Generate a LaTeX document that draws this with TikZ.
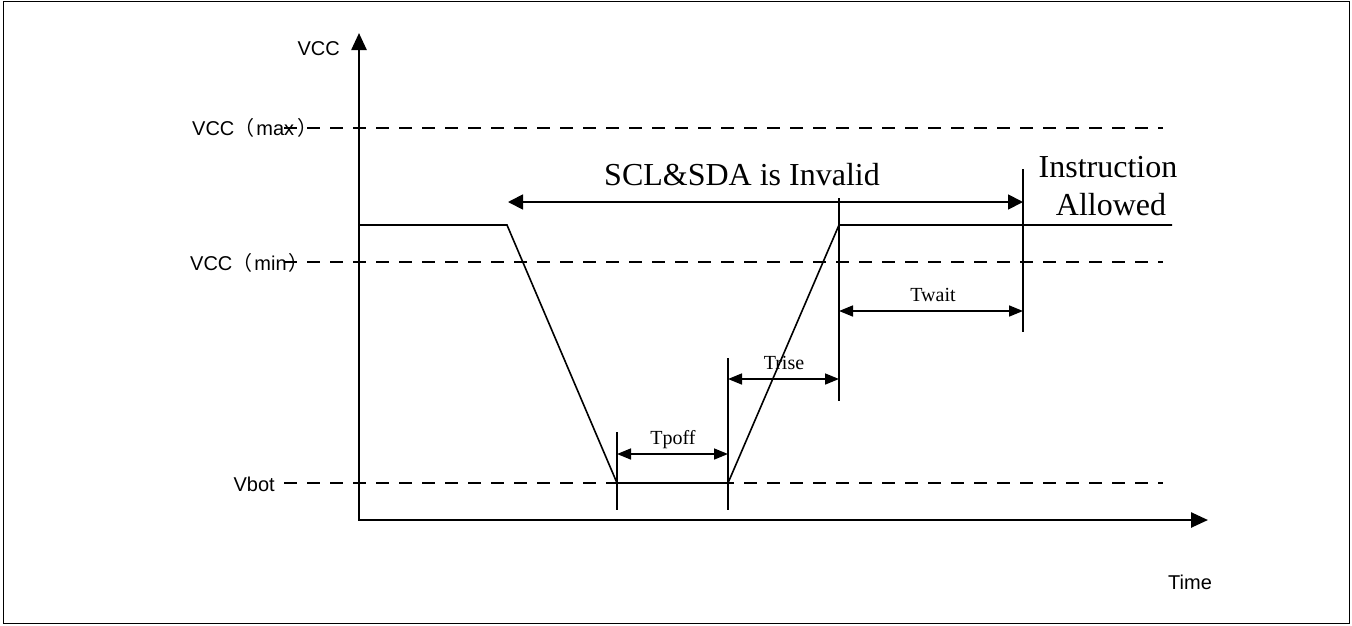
\documentclass[tikz,border=0pt]{standalone}
\usepackage{fontspec}
\setmainfont{Liberation Serif}
\setsansfont{Liberation Sans}
\newfontfamily\cjkfont{Noto Sans CJK SC}
\usetikzlibrary{arrows.meta}

\begin{document}
\begin{tikzpicture}[x=1pt, y=-1pt,
    axis/.style={line width=2.5pt, {Triangle[length=17pt,width=15pt]}-{Triangle[length=17pt,width=15pt]}},
    level/.style={line width=1.6pt, dash pattern=on 13pt off 10pt},
    signal/.style={line width=1.6pt, line join=miter},
    marker/.style={line width=1.6pt},
    span/.style={line width=1.6pt, {Triangle[length=14pt,width=11pt]}-{Triangle[length=14pt,width=11pt]}},
    bigspan/.style={line width=1.8pt, {Triangle[length=15pt,width=15pt]}-{Triangle[length=15pt,width=15pt]}},
    sanslabel/.style={font=\sffamily\fontsize{20}{24}\selectfont, inner sep=0pt},
    timelabel/.style={font=\fontsize{20}{24}\selectfont, inner sep=0pt},
    biglabel/.style={font=\fontsize{32}{38}\selectfont, inner sep=0pt}]
    % Define the levels (pixels, measured downwards)
    \def\yhigh{225}
    \def\ybot{483}

    % Frame round the whole picture
    \useasboundingbox (0,0) rectangle (1352,625);
    \draw[line width=1.5pt] (3.5,1.5) rectangle (1349.5,623.5);

    % Axes
    \coordinate (O) at (359,520);
    \coordinate (Ytip) at (359,33);
    \coordinate (Xtip) at (1208,520);
    \draw[axis] (Ytip) -- (O) -- (Xtip);

    % Dashed voltage levels
    \foreach \lv/\y in {max/128, min/262, bot/\ybot} {
        \coordinate (L\lv) at (284,\y);
        \coordinate (R\lv) at (1163,\y);
        \draw[level] (L\lv) -- (R\lv);
    }

    % Supply voltage curve
    \coordinate (A) at (359,\yhigh);
    \coordinate (B) at (507,\yhigh);
    \coordinate (C) at (617,\ybot);
    \coordinate (D) at (728,\ybot);
    \coordinate (E) at (839,\yhigh);
    \coordinate (F) at (1172,\yhigh);
    \draw[signal] (A) -- (B) -- (C) -- (D) -- (E) -- (F);

    % Vertical markers
    \foreach \m/\x/\ya/\yb in {c/617/432/510, d/728/358/510, e/839/198/401, w/1023/169/332} {
        \coordinate (\m top) at (\x,\ya);
        \coordinate (\m bot) at (\x,\yb);
        \draw[marker] (\m top) -- (\m bot);
    }

    % Time spans
    \coordinate (poffL) at (617,454);
    \coordinate (poffR) at (728,454);
    \coordinate (riseL) at (728,379);
    \coordinate (riseR) at (839,379);
    \coordinate (waitL) at (839,311);
    \coordinate (waitR) at (1023,311);
    \coordinate (invL) at (508,202);
    \coordinate (invR) at (1023,202);
    \draw[span] (poffL) -- (poffR);
    \draw[span] (riseL) -- (riseR);
    \draw[span] (waitL) -- (waitR);
    \draw[bigspan] (invL) -- (invR);

    % Labels
    \node[sanslabel, anchor=base east] (vcc) at (340,55) {VCC};
    \node[sanslabel, anchor=base west] (vccmax) at (192,135) {VCC{\cjkfont （}\hspace{2pt}max\hspace{3pt}{\cjkfont ）}};
    \node[sanslabel, anchor=base west] (vccmin) at (190,270) {VCC{\cjkfont （}\hspace{2pt}min\hspace{2pt}{\cjkfont ）}};
    \node[sanslabel, anchor=base east] (vbot) at (275,491) {Vbot};
    \node[sanslabel, anchor=base west] (time) at (1168,589) {Time};
    \node[timelabel, anchor=base] (tpoff) at (673,444) {Tpoff};
    \node[timelabel, anchor=base] (trise) at (784,369) {Trise};
    \node[timelabel, anchor=base] (twait) at (933,301) {Twait};
    \node[biglabel, anchor=base] (invalid) at (742,185) {SCL\&SDA is Invalid};
    \node[biglabel, anchor=base] (instr) at (1108,177) {Instruction};
    \node[biglabel, anchor=base] (allowed) at (1111,215) {Allowed};
\end{tikzpicture}
\end{document}
